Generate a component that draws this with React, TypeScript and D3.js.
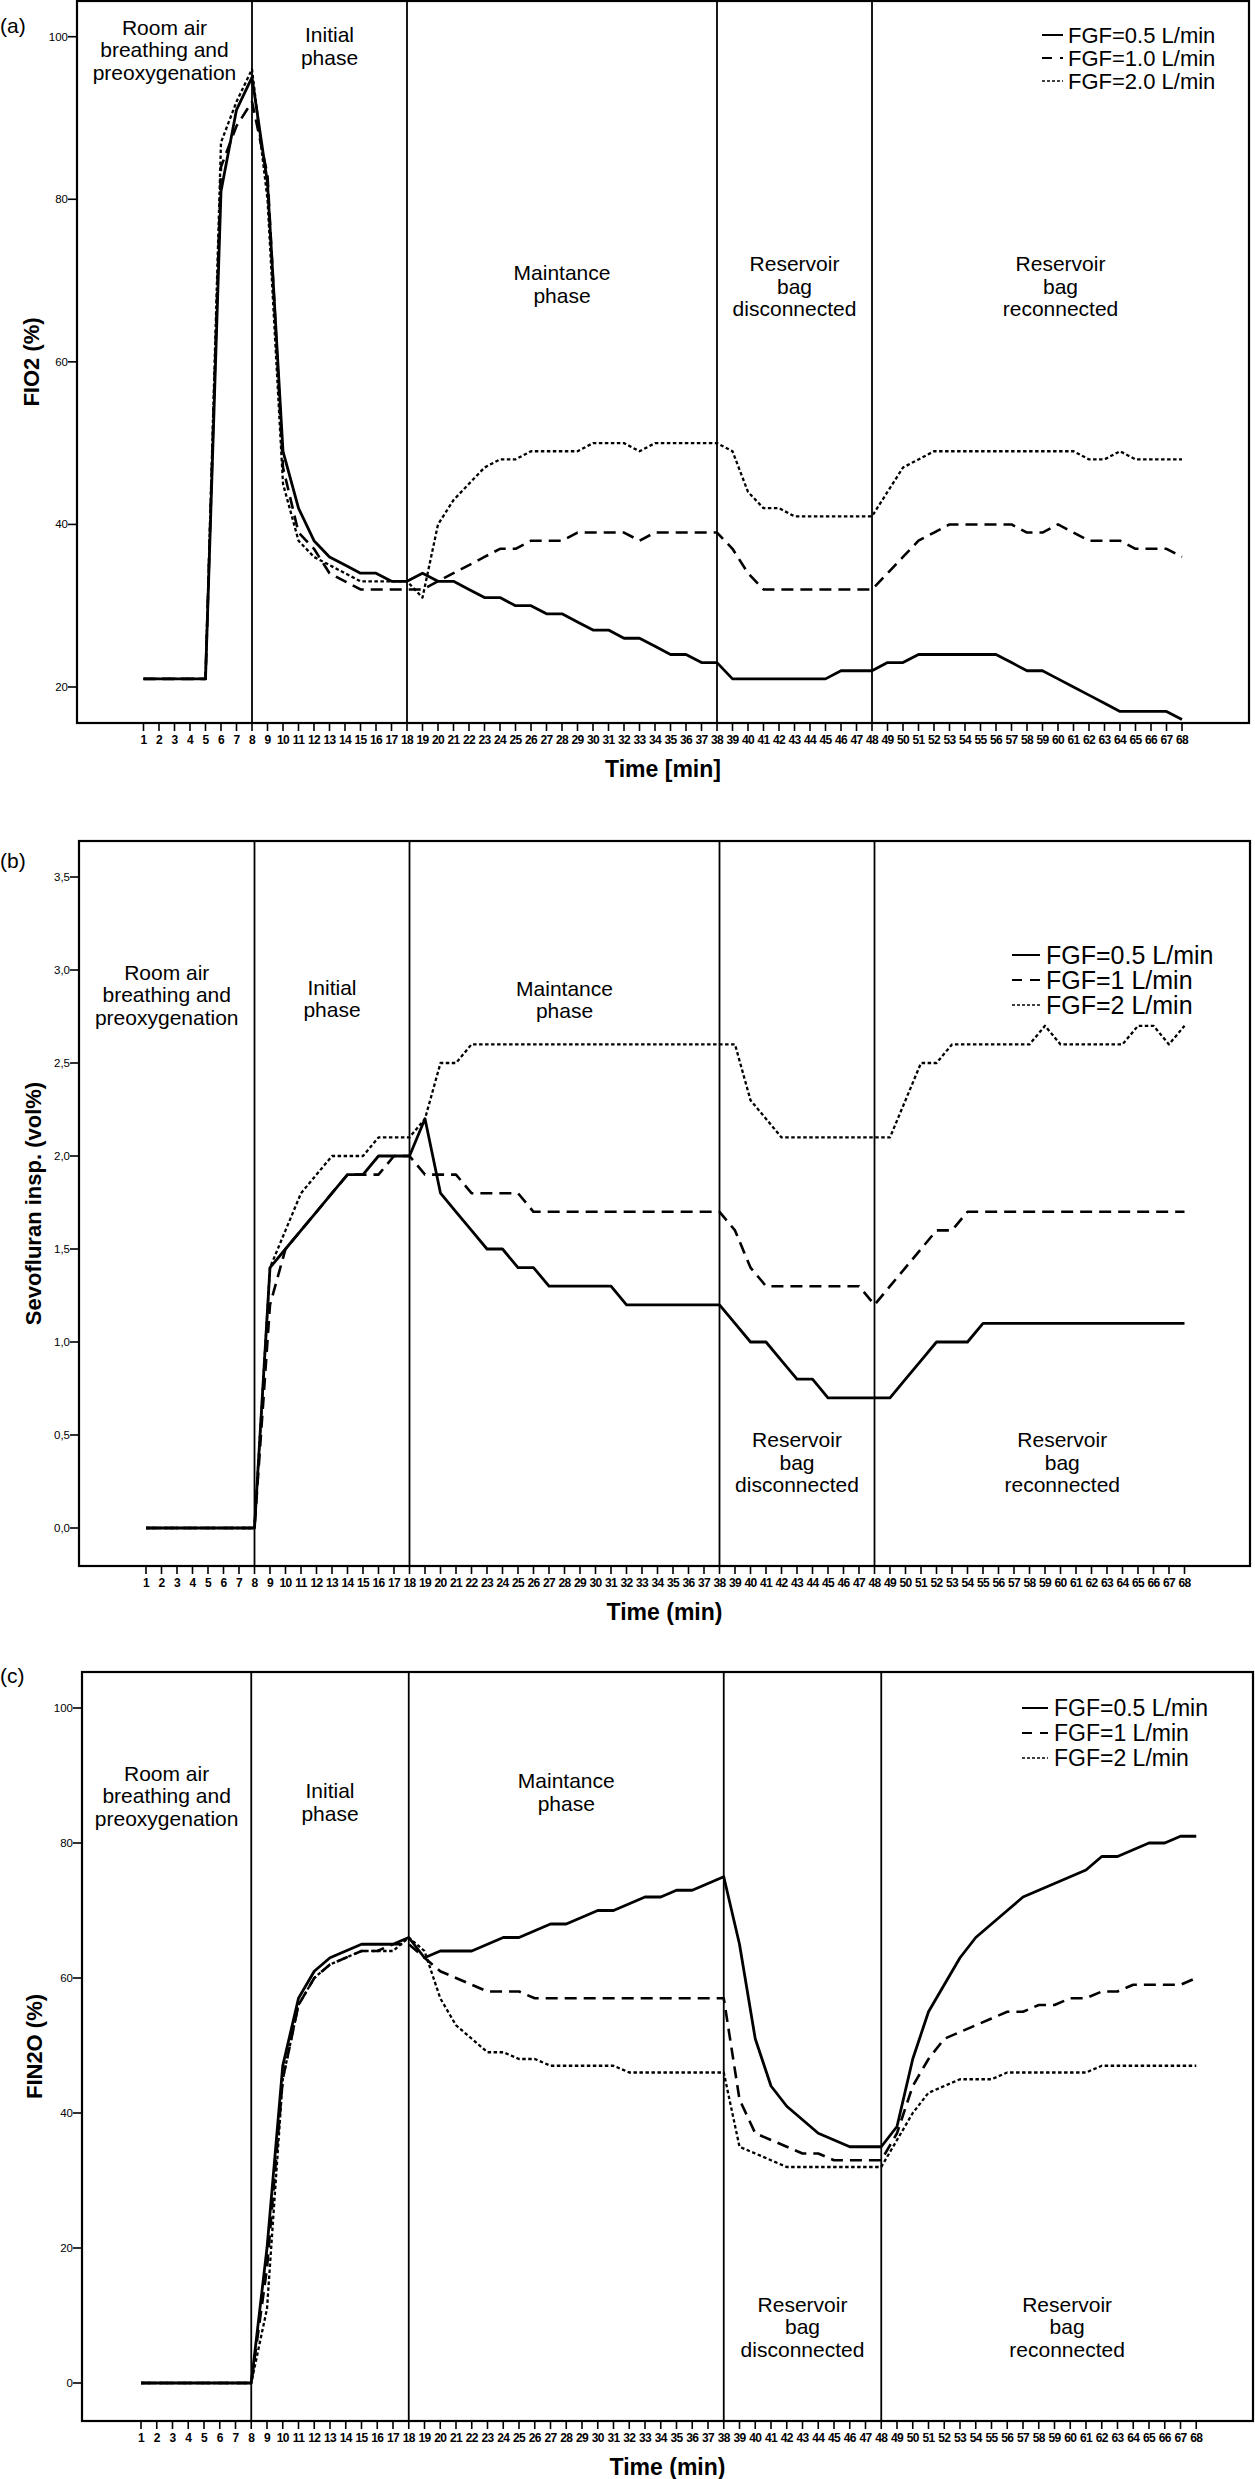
import React from 'react';
import * as d3 from 'd3';

// ---------------- data ----------------
const MINUTES = d3.range(1, 69);
const PHASE_BOUNDS = [8, 18, 38, 48];

const FIO2_05 = [21,21,21,21,21, 81,91,95,82,49, 42,38,36,35,34, 34,33,33,34,33, 33,32,31,31,30, 30,29,29,28,27, 27,26,26,25,24, 24,23,23,21,21, 21,21,21,21,21, 22,22,22,23,23, 24,24,24,24,24, 24,23,22,22,21, 20,19,18,17,17, 17,17,16];
const FIO2_10 = [21,21,21,21,21, 84,89,92,83,47, 39,37,34,33,32, 32,32,32,32,33, 34,35,36,37,37, 38,38,38,39,39, 39,39,38,39,39, 39,39,39,37,34, 32,32,32,32,32, 32,32,32,34,36, 38,39,40,40,40, 40,40,39,39,40, 39,38,38,38,37, 37,37,36];
const FIO2_20 = [21,21,21,21,21, 87,92,96,80,45, 38,36,35,34,33, 33,33,33,31,40, 43,45,47,48,48, 49,49,49,49,50, 50,50,49,50,50, 50,50,50,49,44, 42,42,41,41,41, 41,41,41,44,47, 48,49,49,49,49, 49,49,49,49,49, 49,48,48,49,48, 48,48,48];

const SEVO_05 = [0,0,0,0,0, 0,0,0,1.4,1.5, 1.6,1.7,1.8,1.9,1.9, 2.0,2.0,2.0,2.2,1.8, 1.7,1.6,1.5,1.5,1.4, 1.4,1.3,1.3,1.3,1.3, 1.3,1.2,1.2,1.2,1.2, 1.2,1.2,1.2,1.1,1.0, 1.0,0.9,0.8,0.8,0.7, 0.7,0.7,0.7,0.7,0.8, 0.9,1.0,1.0,1.0,1.1, 1.1,1.1,1.1,1.1,1.1, 1.1,1.1,1.1,1.1,1.1, 1.1,1.1,1.1];
const SEVO_10 = [0,0,0,0,0, 0,0,0,1.2,1.5, 1.6,1.7,1.8,1.9,1.9, 1.9,2.0,2.0,1.9,1.9, 1.9,1.8,1.8,1.8,1.8, 1.7,1.7,1.7,1.7,1.7, 1.7,1.7,1.7,1.7,1.7, 1.7,1.7,1.7,1.6,1.4, 1.3,1.3,1.3,1.3,1.3, 1.3,1.3,1.2,1.3,1.4, 1.5,1.6,1.6,1.7,1.7, 1.7,1.7,1.7,1.7,1.7, 1.7,1.7,1.7,1.7,1.7, 1.7,1.7,1.7];
const SEVO_20 = [0,0,0,0,0, 0,0,0,1.4,1.6, 1.8,1.9,2.0,2.0,2.0, 2.1,2.1,2.1,2.2,2.5, 2.5,2.6,2.6,2.6,2.6, 2.6,2.6,2.6,2.6,2.6, 2.6,2.6,2.6,2.6,2.6, 2.6,2.6,2.6,2.6,2.3, 2.2,2.1,2.1,2.1,2.1, 2.1,2.1,2.1,2.1,2.3, 2.5,2.5,2.6,2.6,2.6, 2.6,2.6,2.6,2.7,2.6, 2.6,2.6,2.6,2.6,2.7, 2.7,2.6,2.7];

const FIN2O_05 = [0,0,0,0,0, 0,0,0,20,47, 57,61,63,64,65, 65,65,66,63,64, 64,64,65,66,66, 67,68,68,69,70, 70,71,72,72,73, 73,74,75,65,51, 44,41,39,37,36, 35,35,35,38,48, 55,59,63,66,68, 70,72,73,74,75, 76,78,78,79,80, 80,81,81];
const FIN2O_10 = [0,0,0,0,0, 0,0,0,17,45, 56,60,62,63,64, 64,65,65,63,61, 60,59,58,58,58, 57,57,57,57,57, 57,57,57,57,57, 57,57,57,42,37, 36,35,34,34,33, 33,33,33,37,44, 48,51,52,53,54, 55,55,56,56,57, 57,58,58,59,59, 59,59,60];
const FIN2O_20 = [0,0,0,0,0, 0,0,0,11,45, 56,60,62,63,64, 64,64,66,64,57, 53,51,49,49,48, 48,47,47,47,47, 47,46,46,46,46, 46,46,46,35,34, 33,32,32,32,32, 32,32,32,36,40, 43,44,45,45,45, 46,46,46,46,46, 46,47,47,47,47, 47,47,47];

const LEGEND_A = ['FGF=0.5 L/min', 'FGF=1.0 L/min', 'FGF=2.0 L/min'];
const LEGEND_BC = ['FGF=0.5 L/min', 'FGF=1 L/min', 'FGF=2 L/min'];

const Y_TICKS_A = [20, 40, 60, 80, 100];
const Y_TICKS_B = [0, 0.5, 1, 1.5, 2, 2.5, 3, 3.5];
const Y_TICKS_C = [0, 20, 40, 60, 80, 100];

const PHASE_ROOM = ['Room air', 'breathing and', 'preoxygenation'];
const PHASE_INITIAL = ['Initial', 'phase'];
const PHASE_MAINT = ['Maintance', 'phase'];
const PHASE_DISC = ['Reservoir', 'bag', 'disconnected'];
const PHASE_RECON = ['Reservoir', 'bag', 'reconnected'];

// ---------------- styles ----------------
const FONT = '"Liberation Sans", Arial, Helvetica, sans-serif';
const SERIES_STYLE = [
  { dash: undefined as string | undefined, width: 2.8 },
  { dash: '12,7', width: 2.6 },
  { dash: '3.5,2.5', width: 2.3 },
];

type PanelCfg = {
  left: number; right: number; top: number; bottom: number;
  x1: number; x68: number;
  yDom: [number, number]; yRng: [number, number];
  yTicks: number[]; yFmt: (v: number) => string;
  series: number[][];
  legend: string[];
  leg: { sx: number; len: number; tx: number; rows: number[]; fs: number; dashes: (string | undefined)[] };
  yTitle: string; yTitleX: number;
  xTitle: string;
  tag: string; tagY: number;
  phaseY: { room: number; initial: number; maint: number; res: number };
};

const LH = 22.5;

function MultiText({ lines, x, cy, fs }: { lines: string[]; x: number; cy: number; fs: number }) {
  const y0 = cy - ((lines.length - 1) * LH) / 2;
  return (
    <text x={x} textAnchor="middle" fontFamily={FONT} fontSize={fs} fill="#000">
      {lines.map((l, i) => (
        <tspan key={i} x={x} y={y0 + i * LH} dominantBaseline="central">{l}</tspan>
      ))}
    </text>
  );
}

function Panel({ c }: { c: PanelCfg }) {
  const x = d3.scaleLinear().domain([1, 68]).range([c.x1, c.x68]);
  const y = d3.scaleLinear().domain(c.yDom).range(c.yRng);
  const line = d3.line<number>().x((_, i) => x(MINUTES[i])).y((v) => y(v));
  const bx = [c.left, ...PHASE_BOUNDS.map((b) => x(b)), c.right];
  const mid = (i: number) => (bx[i] + bx[i + 1]) / 2;
  const order = [2, 1, 0];
  return (
    <g>
      <text x={0} y={c.tagY} dominantBaseline="central" fontFamily={FONT} fontSize={21}>{c.tag}</text>
      <rect x={c.left} y={c.top} width={c.right - c.left} height={c.bottom - c.top} fill="none" stroke="#000" strokeWidth={2.2} />
      {PHASE_BOUNDS.map((b) => (
        <line key={b} x1={x(b)} x2={x(b)} y1={c.top} y2={c.bottom} stroke="#000" strokeWidth={1.8} />
      ))}
      {MINUTES.map((m) => (
        <g key={m}>
          <line x1={x(m)} x2={x(m)} y1={c.bottom} y2={c.bottom + 8} stroke="#000" strokeWidth={1.6} />
          <text x={x(m)} y={c.bottom + 17} textAnchor="middle" dominantBaseline="central" fontFamily={FONT} fontSize={12} fontWeight="bold" letterSpacing={-0.6}>{m}</text>
        </g>
      ))}
      {c.yTicks.map((t) => (
        <g key={t}>
          <line x1={c.left - 9} x2={c.left} y1={y(t)} y2={y(t)} stroke="#000" strokeWidth={1.6} />
          <text x={c.left - 9} y={y(t)} textAnchor="end" dominantBaseline="central" fontFamily={FONT} fontSize={11.5}>{c.yFmt(t)}</text>
        </g>
      ))}
      <text x={(c.left + c.right) / 2} y={c.bottom + 46} textAnchor="middle" dominantBaseline="central" fontFamily={FONT} fontSize={23} fontWeight="bold">{c.xTitle}</text>
      <text transform={`translate(${c.yTitleX},${(c.top + c.bottom) / 2}) rotate(-90)`} textAnchor="middle" dominantBaseline="central" fontFamily={FONT} fontSize={22} fontWeight="bold">{c.yTitle}</text>
      <MultiText lines={PHASE_ROOM} x={mid(0)} cy={c.phaseY.room} fs={21} />
      <MultiText lines={PHASE_INITIAL} x={mid(1)} cy={c.phaseY.initial} fs={21} />
      <MultiText lines={PHASE_MAINT} x={mid(2)} cy={c.phaseY.maint} fs={21} />
      <MultiText lines={PHASE_DISC} x={mid(3)} cy={c.phaseY.res} fs={21} />
      <MultiText lines={PHASE_RECON} x={mid(4)} cy={c.phaseY.res} fs={21} />
      {order.map((si) => (
        <path key={si} d={line(c.series[si]) || ''} fill="none" stroke="#000"
          strokeWidth={SERIES_STYLE[si].width} strokeDasharray={SERIES_STYLE[si].dash} strokeLinejoin="round" />
      ))}
      {c.legend.map((l, i) => (
        <g key={l}>
          <line x1={c.leg.sx} x2={c.leg.sx + c.leg.len} y1={c.leg.rows[i]} y2={c.leg.rows[i]} stroke="#000"
            strokeWidth={i === 2 ? 1.6 : 2} strokeDasharray={c.leg.dashes[i]} />
          <text x={c.leg.tx} y={c.leg.rows[i]} dominantBaseline="central" fontFamily={FONT} fontSize={c.leg.fs}>{l}</text>
        </g>
      ))}
    </g>
  );
}

const fmtInt = (v: number) => String(v);
const fmtComma = (v: number) => v.toFixed(1).replace('.', ',');

const PANELS: PanelCfg[] = [
  {
    left: 77, right: 1249, top: 1, bottom: 723,
    x1: 143.5, x68: 143.5 + 67 * 15.5,
    yDom: [20, 100], yRng: [687, 36.7],
    yTicks: Y_TICKS_A, yFmt: fmtInt,
    series: [FIO2_05, FIO2_10, FIO2_20],
    legend: LEGEND_A,
    leg: { sx: 1042, len: 21, tx: 1068, rows: [35, 58, 81], fs: 22, dashes: [undefined, '10,8', '3,2'] },
    yTitle: 'FIO2 (%)', yTitleX: 31,
    xTitle: 'Time [min]',
    tag: '(a)', tagY: 25,
    phaseY: { room: 49.5, initial: 46, maint: 284, res: 286 },
  },
  {
    left: 79, right: 1250, top: 841, bottom: 1566,
    x1: 146, x68: 146 + 67 * 15.5,
    yDom: [0, 3.5], yRng: [1528, 877],
    yTicks: Y_TICKS_B, yFmt: fmtComma,
    series: [SEVO_05, SEVO_10, SEVO_20],
    legend: LEGEND_BC,
    leg: { sx: 1012, len: 28, tx: 1046, rows: [955, 980, 1005], fs: 25, dashes: [undefined, '10,8', '3,2'] },
    yTitle: 'Sevofluran insp. (vol%)', yTitleX: 33,
    xTitle: 'Time (min)',
    tag: '(b)', tagY: 860,
    phaseY: { room: 994.5, initial: 998.5, maint: 999.5, res: 1462 },
  },
  {
    left: 82, right: 1253, top: 1672, bottom: 2421,
    x1: 141, x68: 141 + 67 * 15.75,
    yDom: [0, 100], yRng: [2383, 1708],
    yTicks: Y_TICKS_C, yFmt: fmtInt,
    series: [FIN2O_05, FIN2O_10, FIN2O_20],
    legend: LEGEND_BC,
    leg: { sx: 1022, len: 26, tx: 1054, rows: [1708, 1733, 1758], fs: 23, dashes: [undefined, '10,8', '3,2'] },
    yTitle: 'FIN2O (%)', yTitleX: 34,
    xTitle: 'Time (min)',
    tag: '(c)', tagY: 1675,
    phaseY: { room: 1795.5, initial: 1802, maint: 1792, res: 2326.5 },
  },
];

export default function App() {
  return (
    <svg width={1255} height={2479} viewBox="0 0 1255 2479"
      style={{ position: 'absolute', left: 0, top: 0, background: '#fff' }}>
      <rect x={0} y={0} width={1255} height={2479} fill="#fff" />
      {PANELS.map((p) => <Panel key={p.tag} c={p} />)}
    </svg>
  );
}
